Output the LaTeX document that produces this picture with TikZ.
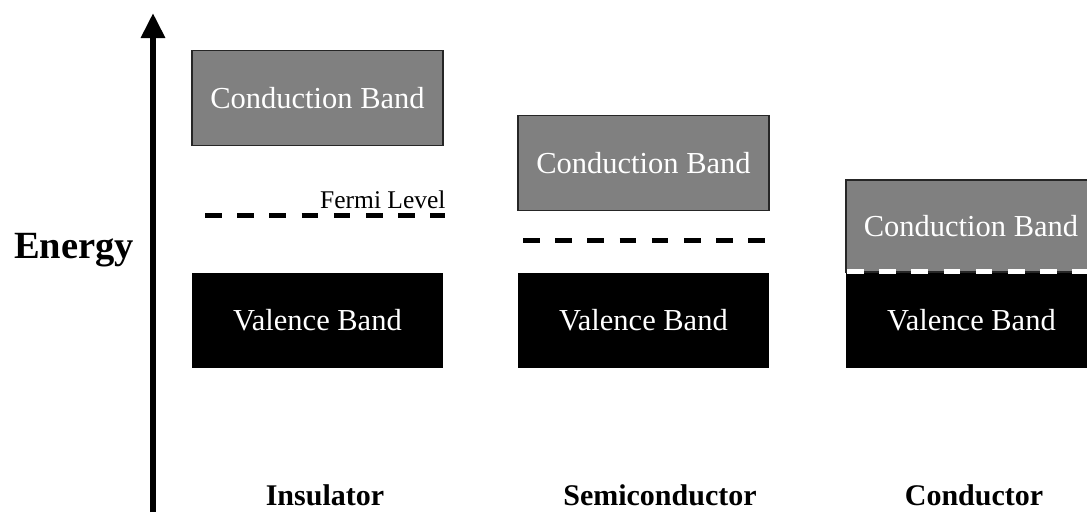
\documentclass[tikz,border=0pt]{standalone}
\usepackage{fontspec}
\setmainfont{Liberation Serif}
\usetikzlibrary{arrows.meta}
\definecolor{cbgray}{RGB}{128,128,128}
\tikzset{
  band/.style={minimum width=251pt, minimum height=95pt, inner sep=0pt,
    text=white, font=\fontsize{30.5}{30.5}\selectfont},
  cband/.style={band, fill=cbgray, draw=black!85, line width=1.2pt},
  vband/.style={band, fill=black},
  fermi/.style={line width=5pt, dash pattern=on 16.5pt off 15.7pt},
  title/.style={anchor=base, font=\fontsize{30}{30}\selectfont\bfseries},
}
\begin{document}
\begin{tikzpicture}[x=1pt, y=-1pt]
\clip (0,0) rectangle (1087,512);
\fill[white] (0,0) rectangle (1087,512);

% energy axis
\coordinate (axisbottom) at (153,512);
\coordinate (axistop) at (153,13);
\draw[line width=6pt, -{Triangle[width=23pt,length=25pt]}] (axisbottom) -- (axistop);
\node[anchor=base, font=\fontsize{38.5}{38.5}\selectfont\bfseries] (energy) at (74,258) {Energy};

% insulator
\node[cband] (icb) at (317.5,98) {Conduction Band};
\node[vband] (ivb) at (317.5,320.5) {Valence Band};
\coordinate (ifl) at (205,215);
\coordinate (ifr) at (445,215);
\draw[fermi] (ifl) -- (ifr);
\node[anchor=base west, inner sep=0pt, font=\fontsize{25.5}{25.5}\selectfont] (flabel) at (320,208) {Fermi Level};
\node[title] (ins) at (325,505) {Insulator};

% semiconductor
\node[cband] (scb) at (643.5,163) {Conduction Band};
\node[vband] (svb) at (643.5,320.5) {Valence Band};
\coordinate (sfl) at (523,240);
\coordinate (sfr) at (768,240);
\draw[fermi] (sfl) -- (sfr);
\node[title] (semi) at (660,505) {Semiconductor};

% conductor
\node[cband, minimum height=92pt] (ccb) at (971.5,226) {};
\node[text=white, font=\fontsize{30.5}{30.5}\selectfont] (ccbt) at (971,226) {Conduction Band};
\node[vband] (cvb) at (971.5,320.5) {Valence Band};
\coordinate (cfl) at (847,271);
\coordinate (cfr) at (1100,271);
\draw[fermi, white] (cfl) -- (cfr);
\node[title] (cond) at (974,505) {Conductor};
\end{tikzpicture}
\end{document}
